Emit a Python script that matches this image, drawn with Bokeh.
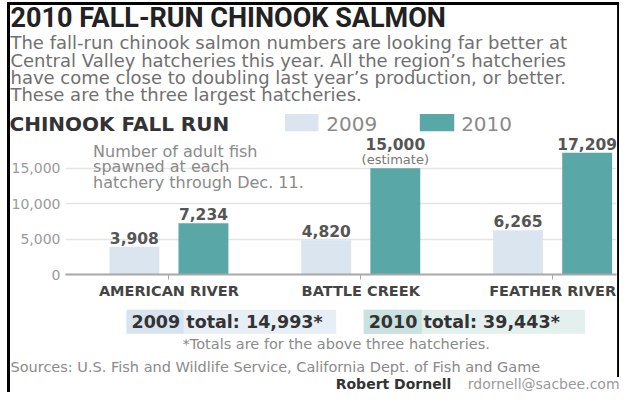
import numpy as np
from bokeh.plotting import figure
from bokeh.models import (Range1d, FixedTicker, NumeralTickFormatter, ColumnDataSource,
                          LabelSet)
from bokeh.core.properties import value
from bokeh.embed import file_html
from bokeh.resources import INLINE

# ---------------- data ----------------
categories = ["AMERICAN RIVER", "BATTLE CREEK", "FEATHER RIVER"]
years = ["2009", "2010"]
fish_2009 = [3908, 4820, 6265]
fish_2010 = [7234, 15000, 17209]
notes_2010 = ["", "(estimate)", ""]
y_ticks = [0, 5000, 10000, 15000]

title_text = "2010 FALL-RUN CHINOOK SALMON"
desc_lines = [
    "The fall-run chinook salmon numbers are looking far better at",
    "Central Valley hatcheries this year. All the region\u2019s hatcheries",
    "have come close to doubling last year\u2019s production, or better.",
    "These are the three largest hatcheries.",
]
chart_label = "CHINOOK FALL RUN"
note_lines = ["Number of adult fish", "spawned at each", "hatchery through Dec. 11."]
footnote = "*Totals are for the above three hatcheries."
sources = "Sources: U.S. Fish and Wildlife Service, California Dept. of Fish and Game"
credit_name = "Robert Dornell"
credit_mail = "rdornell@sacbee.com"

# ---------------- layout ----------------
W, H = 619, 392
FL, FR, FT, FB = 65, 3, 134, 118
FW, FH = W - FL - FR, H - FT - FB
XS, XE = -0.539, 2.333
YS, YE = 0, 19774

def cx(r):  # reference-picture x -> canvas x
    return 8 + (r - 12) * 0.984

def cy(r):  # reference-picture y -> canvas y
    return 3 + (r - 4) * 0.96

def dx(px):
    return XS + (px - FL) * (XE - XS) / FW

def dy(py):
    return YE - (py - FT) * (YE - YS) / FH

def rx(r):
    return dx(cx(r))

def ry(r):
    return dy(cy(r))

C09 = "#dbe5f0"
C10 = "#5aa7a8"
BODY = "DejaVu Sans"

p = figure(width=W, height=H, output_backend="svg", toolbar_location=None,
           x_range=Range1d(XS, XE), y_range=Range1d(YS, YE),
           min_border_left=FL, min_border_right=FR, min_border_top=FT,
           min_border_bottom=FB)
p.outline_line_color = None
p.background_fill_color = "white"
p.border_fill_color = "white"

p.xgrid.visible = False
p.ygrid.ticker = FixedTicker(ticks=y_ticks)
p.ygrid.grid_line_color = "#e4e4e4"
p.ygrid.grid_line_width = 1.5

# white knock-out behind the note text (hides the grid line there)
p.quad(left=[rx(94)], right=[rx(254)], top=[ry(166)], bottom=[ry(183)],
       fill_color="white", line_color=None, level="underlay")

idx = np.arange(len(categories))
off = 0.18
raised = [24 if n else 9 for n in notes_2010]
src = ColumnDataSource(dict(
    x09=idx - off, x10=idx + off,
    v09=fish_2009, v10=fish_2010,
    l09=[f"{v:,}" for v in fish_2009], l10=[f"{v:,}" for v in fish_2010],
    n10=notes_2010, o10=raised,
))

r09 = p.vbar(x="x09", top="v09", width=0.26, source=src, fill_color=C09, line_color=None)
r10 = p.vbar(x="x10", top="v10", width=0.26, source=src, fill_color=C10, line_color=None)

# axes
p.xaxis.ticker = FixedTicker(ticks=list(idx))
p.xaxis.major_label_overrides = {int(i): c for i, c in zip(idx, categories)}
p.xaxis.axis_line_color = "#a8a8a8"
p.xaxis.axis_line_width = 2
p.xaxis.major_tick_line_color = "#a8a8a8"
p.xaxis.major_tick_out = 5
p.xaxis.major_tick_in = 0
p.xaxis.minor_tick_line_color = None
p.xaxis.major_label_standoff = 3
p.xaxis.major_label_text_font = BODY
p.xaxis.major_label_text_font_style = "bold"
p.xaxis.major_label_text_font_size = "14.5px"
p.xaxis.major_label_text_color = "#444444"

p.yaxis.ticker = FixedTicker(ticks=y_ticks)
p.yaxis.formatter = NumeralTickFormatter(format="0,0")
p.yaxis.axis_line_color = None
p.yaxis.major_tick_line_color = None
p.yaxis.minor_tick_line_color = None
p.yaxis.major_tick_out = 0
p.yaxis.major_tick_in = 0
p.yaxis.major_label_standoff = 5
p.yaxis.major_label_text_font = BODY
p.yaxis.major_label_text_font_size = "14px"
p.yaxis.major_label_text_color = "#9a9a9a"

# value labels
p.add_layout(LabelSet(x="x09", y="v09", text="l09", source=src, y_offset=9,
                      text_align="center", text_baseline="middle",
                      text_font=value(BODY), text_font_style="bold",
                      text_font_size="15.5px", text_color="#555555"))
p.add_layout(LabelSet(x="x10", y="v10", text="l10", source=src, y_offset="o10",
                      text_align="center", text_baseline="middle",
                      text_font=value(BODY), text_font_style="bold",
                      text_font_size="15.5px", text_color="#555555"))
p.add_layout(LabelSet(x="x10", y="v10", text="n10", source=src, y_offset=9,
                      text_align="center", text_baseline="middle",
                      text_font=value(BODY), text_font_size="13px", text_color="#777777"))

def txt(t, x, y, size, color="#777777", style="normal", align="left", font=BODY):
    p.text(x=[rx(x)], y=[ry(y)], text=[t], text_font=value(font),
           text_font_size=f"{size}px", text_color=color, text_font_style=style,
           text_align=align, text_baseline="middle", level="overlay")

def box(x0, x1, y0, y1, color):
    p.quad(left=[rx(x0)], right=[rx(x1)], top=[ry(y0)], bottom=[ry(y1)],
           fill_color=color, line_color=None, level="overlay")

# legend (swatches built from the series colours)
box(293, 327, 119, 137, C09)
txt(years[0], 335, 129, 20, color="#8a8a8a")
box(430, 465, 119, 137, C10)
txt(years[1], 472, 129, 20, color="#8a8a8a")

txt(title_text, 14, 19, 27, color="#222222", style="bold", font="Roboto")
for i, line in enumerate(desc_lines):
    txt(line, 14, 45 + i * 18, 18, color="#707070")
txt(chart_label, 13, 129, 20, color="#333333", style="bold")
for i, line in enumerate(note_lines):
    txt(line, 98, 158 + i * 16, 16, color="#8a8a8a")

tot09 = f"{years[0]} total: {sum(fish_2009):,}*"
tot10 = f"{years[1]} total: {sum(fish_2010):,}*"
box(132, 345, 323, 348, "#e8eef6")
box(132, 190, 323, 348, "#d8e3f0")
box(373, 598, 323, 348, "#e3f0ee")
box(373, 432, 323, 348, "#c9e2df")
txt(tot09, 137, 335.5, 17.5, color="#333333", style="bold")
txt(tot10, 378, 335.5, 17.5, color="#333333", style="bold")
txt(footnote, 345, 359, 14.5, color="#8a8a8a", align="center")
txt(sources, 14, 383, 14.5, color="#8a8a8a")
txt(credit_mail, 633, 400, 14, color="#9a9a9a", align="right")
txt(credit_name, 462, 400, 14, color="#333333", style="bold", align="right")

# frame border of the graphic
bx0, bx1, by0, by1 = cx(12), cx(632), cy(4), cy(393)
p.multi_line(xs=[[dx(bx0), dx(bx0)], [dx(bx0 - 1.5), dx(bx1 + 1.5)], [dx(bx1), dx(bx1)]],
             ys=[[dy(by0 - 1.5), dy(H + 5)], [dy(by0), dy(by0)], [dy(by0 - 1.5), dy(by1)]],
             line_color="black", line_width=3, level="overlay")

open("out.html", "w").write(file_html(p, INLINE))
